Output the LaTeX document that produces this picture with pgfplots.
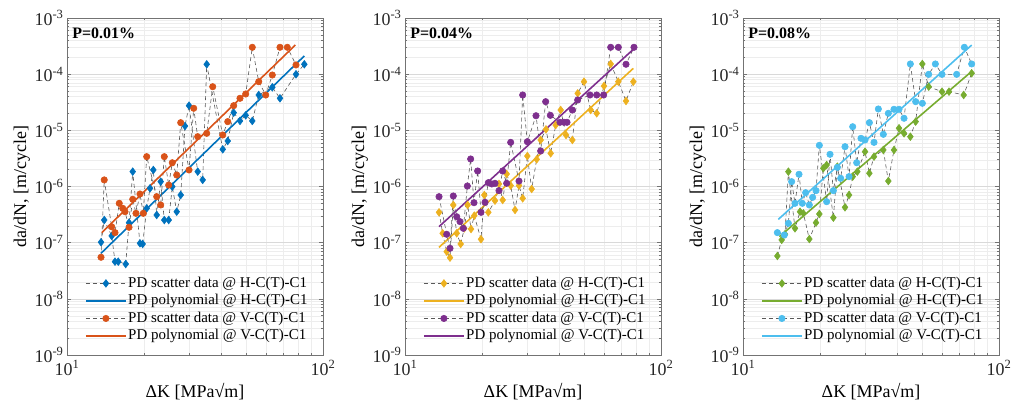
\documentclass[border=0pt]{standalone}
\usepackage{pgfplots}
\pgfplotsset{compat=1.18}
\usepackage{fontspec}
\setmainfont{Liberation Serif}
\definecolor{mblue}{rgb}{0,0.447,0.741}
\definecolor{morange}{rgb}{0.85,0.325,0.098}
\definecolor{myellow}{rgb}{0.929,0.694,0.125}
\definecolor{mpurple}{rgb}{0.494,0.184,0.556}
\definecolor{mgreen}{rgb}{0.466,0.674,0.188}
\definecolor{mcyan}{rgb}{0.301,0.745,0.933}
\pgfplotsset{
  legend image code/.code={\draw[mark repeat=2,mark phase=2,#1] plot coordinates {(0bp,0bp) (20bp,0bp) (40bp,0bp)};},
  every axis/.append style={
  scale only axis, width=256bp, height=337bp,
  xmin=10, xmax=100, ymin=1e-9, ymax=1e-3,
  xtick={10,100}, xticklabels={10\textsuperscript{1},10\textsuperscript{2}},
  ytick={1e-9,1e-8,1e-7,1e-6,1e-5,1e-4,1e-3},
  yticklabels={10\textsuperscript{-9},10\textsuperscript{-8},10\textsuperscript{-7},10\textsuperscript{-6},10\textsuperscript{-5},10\textsuperscript{-4},10\textsuperscript{-3}},
  grid=both,
  major grid style={gray!30, line width=0.5bp},
  minor grid style={gray!14, line width=0.4bp},
  axis line style={black!55, line width=0.6bp},
  tick style={black!55, line width=0.5bp},
  major tick length=4bp, minor tick length=2bp,
  tick align=inside,
  ticklabel style={font=\fontsize{18}{20}\selectfont, text=black!85},
  xticklabel style={yshift=-2bp},
  xlabel={ΔK [MPa√m]},
  ylabel={da/dN, [m/cycle]},
  every axis y label/.style={at={(axis description cs:-0.176,0.5)}, rotate=90, anchor=center, font=\fontsize{18}{20}\selectfont},
  every axis x label/.style={at={(axis description cs:0.5,-0.11)}, anchor=center, font=\fontsize{18}{20}\selectfont},
  legend style={at={(axis description cs:0.07,0.03)}, anchor=south west, draw=none, fill=none, inner sep=0pt,
    font=\fontsize{15}{18}\selectfont, row sep=0pt,
    nodes={inner sep=1.5bp, text height=11bp, text depth=3.5bp}},
  legend cell align=left,
  },
}
\begin{document}
\begin{tikzpicture}
% ---------------- Panel 1 ----------------
\begin{loglogaxis}[at={(67bp,57bp)}, anchor=south west]
\addplot[black!65, line width=0.6bp, dash pattern=on 4bp off 3bp, mark=diamond*, mark size=3.8bp, mark options={solid, draw=mblue, fill=mblue}] coordinates {
(13.58,1.02e-7) (13.98,2.53e-7) (14.95,1.32e-7) (15.40,4.59e-8) (15.86,4.59e-8) (16.96,4.17e-8)
(17.47,2.27e-7) (18.06,1.84e-6) (19.28,9.75e-8) (19.75,9.48e-8) (20.48,4.09e-7) (21.10,9.29e-7)
(21.74,1.97e-6) (22.41,3.11e-7) (23.23,1.22e-6) (23.99,2.53e-7) (24.96,2.53e-7) (25.78,9.93e-7)
(26.83,3.56e-7) (27.81,7.06e-7) (28.90,1.19e-5) (29.97,2.75e-5) (32.40,1.84e-6) (33.89,1.31e-6)
(35.14,1.50e-4) (40.58,4.59e-6) (42.45,6.46e-6) (44.79,2.06e-5) (47.40,1.47e-5) (49.89,1.85e-5)
(52.94,1.47e-5) (56.10,4.26e-5) (63.39,5.84e-5) (67.92,3.72e-5) (78.45,9.95e-5) (84.53,1.50e-4)};
\addplot[mblue, line width=1.6bp, no marks] coordinates {(13.58,6.47e-8) (84.5,2.11e-4)};
\addplot[black!65, line width=0.6bp, dash pattern=on 4bp off 3bp, mark=*, mark size=3.2bp, mark options={solid, draw=morange, fill=morange}] coordinates {
(13.58,5.50e-8) (13.98,1.31e-6) (14.95,1.92e-7) (15.40,1.51e-7) (16.00,5.02e-7) (16.51,4.09e-7)
(16.85,3.56e-7) (17.47,1.88e-7) (18.06,5.92e-7) (18.60,3.33e-7) (19.28,7.36e-7) (19.86,3.33e-7)
(20.48,3.40e-6) (22.41,6.59e-7) (23.23,4.69e-7) (23.99,3.40e-6) (24.96,1.06e-6) (25.78,2.65e-6)
(26.83,1.60e-6) (27.81,1.37e-5) (29.97,1.97e-6) (31.26,2.47e-5) (32.40,7.71e-6) (35.14,8.85e-6)
(37.09,5.98e-5) (40.58,8.26e-6) (42.45,1.43e-5) (44.79,2.75e-5) (47.40,3.72e-5) (49.89,4.44e-5)
(52.94,3.01e-4) (56.10,7.35e-5) (59.74,4.26e-5) (63.39,9.66e-5) (67.92,3.01e-4) (72.53,3.01e-4)
(78.45,1.46e-4)};
\addplot[morange, line width=1.6bp, no marks] coordinates {(13.67,1.51e-7) (78.0,3.31e-4)};
\legend{{PD scatter data @ H-C(T)-C1},{PD polynomial @ H-C(T)-C1},{PD scatter data @ V-C(T)-C1},{PD polynomial @ V-C(T)-C1}}
\node[anchor=west, inner sep=0pt, font=\bfseries\fontsize{16}{16}\selectfont] at (rel axis cs:0.02,0.955) {P=0.01\%};
\end{loglogaxis}
% ---------------- Panel 2 ----------------
\begin{loglogaxis}[at={(405bp,57bp)}, anchor=south west]
\addplot[black!65, line width=0.6bp, dash pattern=on 4bp off 3bp, mark=diamond*, mark size=3.8bp, mark options={solid, draw=myellow, fill=myellow}] coordinates {
(13.58,3.47e-7) (14.03,1.47e-7) (14.55,6.92e-8) (14.99,5.41e-8) (15.44,4.69e-7) (15.92,1.47e-7)
(16.50,9.48e-8) (17.05,1.80e-7) (17.57,4.69e-7) (18.11,1.75e-7) (18.65,3.03e-7) (19.81,1.15e-7)
(20.41,7.06e-7) (21.16,3.47e-7) (22.47,5.60e-7) (23.29,1.11e-6) (24.07,5.75e-7) (24.95,1.67e-6)
(25.87,1.04e-6) (26.90,3.82e-7) (27.88,1.04e-6) (28.82,6.16e-7) (30.05,3.49e-6) (31.25,9.03e-7)
(32.69,3.05e-6) (33.88,6.73e-6) (35.54,1.04e-5) (37.07,3.90e-6) (38.78,1.24e-5) (40.56,2.30e-5)
(42.56,8.26e-6) (45.05,6.73e-6) (47.26,4.56e-5) (50.03,7.35e-5) (53.13,2.30e-5) (56.09,2.01e-5)
(59.89,6.15e-5) (63.60,1.52e-4) (68.12,7.35e-5) (73.00,3.33e-5) (77.98,7.35e-5)};
\addplot[myellow, line width=1.6bp, no marks] coordinates {(13.58,8.26e-8) (77.98,1.27e-4)};
\addplot[black!65, line width=0.6bp, dash pattern=on 4bp off 3bp, mark=*, mark size=3.2bp, mark options={solid, draw=mpurple, fill=mpurple}] coordinates {
(13.58,6.59e-7) (14.55,1.41e-7) (14.99,7.93e-8) (15.44,6.78e-7) (15.92,2.90e-7) (16.40,2.37e-7)
(16.90,1.80e-7) (17.52,1.02e-6) (18.05,3.09e-6) (18.60,5.15e-7) (19.22,1.89e-6) (19.81,3.47e-7)
(20.54,5.23e-7) (21.16,1.17e-6) (21.81,1.11e-6) (22.47,1.14e-6) (23.29,8.44e-7) (24.07,1.89e-6)
(24.95,1.14e-6) (25.87,6.11e-6) (27.88,1.25e-6) (28.82,4.26e-5) (30.05,6.28e-6) (32.49,1.82e-5)
(33.88,4.29e-6) (35.44,3.24e-5) (36.96,1.85e-5) (40.32,1.39e-5) (41.80,1.39e-5) (42.94,1.39e-5)
(45.05,2.30e-5) (47.26,3.47e-5) (52.81,4.26e-5) (56.09,4.26e-5) (59.70,4.26e-5) (63.60,3.01e-4)
(68.12,3.01e-4) (73.00,1.50e-4) (78.45,3.01e-4)};
\addplot[mpurple, line width=1.6bp, no marks] coordinates {(13.58,1.93e-7) (77.98,2.77e-4)};
\legend{{PD scatter data @ H-C(T)-C1},{PD polynomial @ H-C(T)-C1},{PD scatter data @ V-C(T)-C1},{PD polynomial @ V-C(T)-C1}}
\node[anchor=west, inner sep=0pt, font=\bfseries\fontsize{16}{16}\selectfont] at (rel axis cs:0.02,0.955) {P=0.04\%};
\end{loglogaxis}
% ---------------- Panel 3 ----------------
\begin{loglogaxis}[at={(743bp,57bp)}, anchor=south west]
\addplot[black!65, line width=0.6bp, dash pattern=on 4bp off 3bp, mark=diamond*, mark size=3.8bp, mark options={solid, draw=mgreen, fill=mgreen}] coordinates {
(13.62,5.79e-8) (14.16,1.12e-7) (14.59,1.41e-7) (15.04,1.84e-6) (15.96,1.80e-7) (16.70,3.56e-7)
(17.21,3.33e-7) (18.16,1.16e-7) (19.28,2.27e-7) (19.87,3.24e-7) (20.60,2.11e-6) (21.22,2.42e-6)
(22.54,2.79e-7) (23.36,2.26e-6) (25.03,4.26e-7) (25.95,7.06e-7) (26.82,1.50e-6) (27.97,1.84e-6)
(29.97,4.17e-6) (31.16,1.72e-6) (32.49,3.40e-6) (35.33,4.47e-6) (36.96,1.25e-6) (38.89,4.47e-6)
(40.68,1.09e-5) (42.56,8.85e-6) (45.05,7.71e-6) (47.26,1.43e-5) (50.18,1.52e-4) (53.13,5.98e-5)
(59.89,4.88e-5) (63.79,4.88e-5) (72.78,4.26e-5) (78.22,1.04e-4)};
\addplot[mgreen, line width=1.6bp, no marks] coordinates {(13.87,1.28e-7) (78.22,1.12e-4)};
\addplot[black!65, line width=0.6bp, dash pattern=on 4bp off 3bp, mark=*, mark size=3.2bp, mark options={solid, draw=mcyan, fill=mcyan}] coordinates {
(13.62,1.51e-7) (14.50,1.37e-7) (15.04,2.21e-7) (15.49,1.22e-6) (15.96,5.02e-7) (16.55,1.65e-6)
(17.05,5.02e-7) (17.57,7.77e-7) (18.16,4.69e-7) (18.71,6.41e-7) (19.28,8.44e-7) (19.87,5.41e-6)
(21.22,5.37e-7) (21.87,3.74e-6) (22.54,8.44e-7) (23.36,2.19e-6) (24.07,1.40e-6) (25.03,5.12e-6)
(25.95,1.50e-6) (26.82,1.16e-5) (27.80,2.65e-6) (28.90,7.21e-6) (29.97,6.73e-6) (31.16,1.37e-5)
(32.49,6.11e-6) (33.78,2.40e-5) (35.33,8.49e-6) (36.96,2.01e-5) (38.89,2.37e-5) (40.68,2.37e-5)
(42.56,1.64e-5) (45.05,1.52e-4) (47.26,3.24e-5) (50.18,3.03e-5) (53.13,9.93e-5) (56.41,1.52e-4)
(59.89,9.93e-5) (68.32,9.93e-5) (73.22,3.01e-4) (78.22,1.52e-4)};
\addplot[mcyan, line width=1.6bp, no marks] coordinates {(13.74,2.6e-7) (78.2,3.3e-4)};
\legend{{PD scatter data @ H-C(T)-C1},{PD polynomial @ H-C(T)-C1},{PD scatter data @ V-C(T)-C1},{PD polynomial @ V-C(T)-C1}}
\node[anchor=west, inner sep=0pt, font=\bfseries\fontsize{16}{16}\selectfont] at (rel axis cs:0.02,0.955) {P=0.08\%};
\end{loglogaxis}
\pgfresetboundingbox
\path (0,0) rectangle (1014bp,412bp);
\end{tikzpicture}
\end{document}
